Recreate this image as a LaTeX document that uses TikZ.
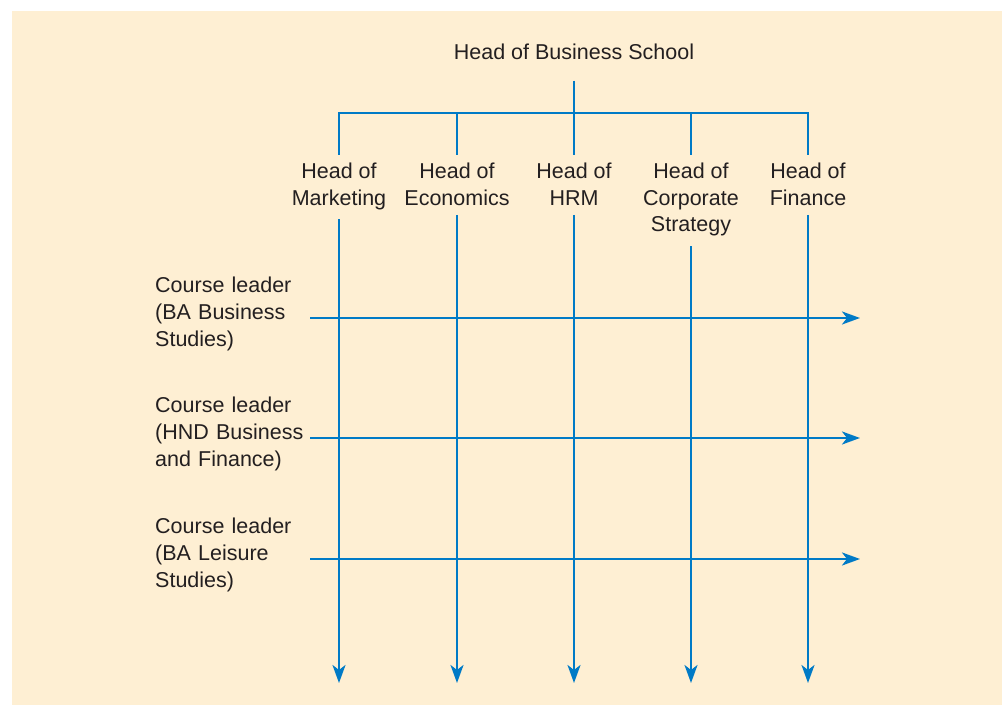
\documentclass[tikz,border=0pt]{standalone}
\usepackage{fontspec}
\setmainfont{Liberation Sans}
\usepackage{xcolor}
\usetikzlibrary{arrows.meta}
\definecolor{bgbeige}{RGB}{254,239,211}
\definecolor{linkblue}{RGB}{0,122,198}
\definecolor{txtgray}{RGB}{35,31,32}

\begin{document}
\begin{tikzpicture}[x=1pt,y=1pt,
    dept/.style={align=center,text=txtgray,inner xsep=2pt,inner ysep=7.5pt,
      font=\fontsize{21.5}{26.8}\selectfont},
    leader/.style={align=left,text width=152pt,text=txtgray,inner sep=3pt,
      font=\fontsize{21.5}{26.8}\selectfont},
    link/.style={linkblue,line width=2.5pt},
    flow/.style={link,-{Stealth[length=18pt,width=13pt,inset=5pt]}}]
    % background
    \useasboundingbox (0,0) rectangle (1002,705);
    \fill[bgbeige] (12,0) rectangle (1002,694);

    \node[dept] (hbs) at (574,653) {Head of Business School};
    \coordinate (bar) at (574,592);
    \coordinate (bottom) at (574,22);
    \coordinate (right) at (860,387);

    % heads of subject
    \node[dept,anchor=north] (mkt) at (339,550) {Head of\\Marketing};
    \node[dept,anchor=north] (eco) at (457,550) {Head of\\Economics};
    \node[dept,anchor=north] (hrm) at (574,550) {Head of\\HRM};
    \node[dept,anchor=north] (cs) at (691,550) {Head of\\Corporate\\Strategy};
    \node[dept,anchor=north] (fin) at (808,550) {Head of\\Finance};

    % course leaders
    \node[leader,anchor=west] (ba) at (152,391) {Course leader\\(BA Business\\Studies)};
    \node[leader,anchor=west] (hnd) at (152,271) {Course leader\\(HND Business\\and Finance)};
    \node[leader,anchor=west] (bal) at (152,150) {Course leader\\(BA Leisure\\Studies)};

    % tree
    \draw[link] ([yshift=-13pt]hbs.south) -- (hbs.south |- bar);
    \draw[link] (mkt.north) -- (mkt.north |- bar) -- (fin.north |- bar) -- (fin.north);
    \draw[link] (eco.north |- bar) -- (eco.north);
    \draw[link] (hrm.north |- bar) -- (hrm.north);
    \draw[link] (cs.north |- bar) -- (cs.north);

    % matrix lines
    \draw[flow] ([yshift=-4pt]ba.east) -- ([yshift=-4pt]ba.east -| right);
    \draw[flow] ([yshift=-4pt]hnd.east) -- ([yshift=-4pt]hnd.east -| right);
    \draw[flow] ([yshift=-4pt]bal.east) -- ([yshift=-4pt]bal.east -| right);

    \draw[flow] ([yshift=-2pt]mkt.south) -- (mkt |- bottom);
    \draw[flow] ([yshift=-2pt]eco.south) -- (eco |- bottom);
    \draw[flow] ([yshift=-2pt]hrm.south) -- (hrm |- bottom);
    \draw[flow] ([yshift=-2pt]cs.south) -- (cs |- bottom);
    \draw[flow] ([yshift=-2pt]fin.south) -- (fin |- bottom);
\end{tikzpicture}
\end{document}
